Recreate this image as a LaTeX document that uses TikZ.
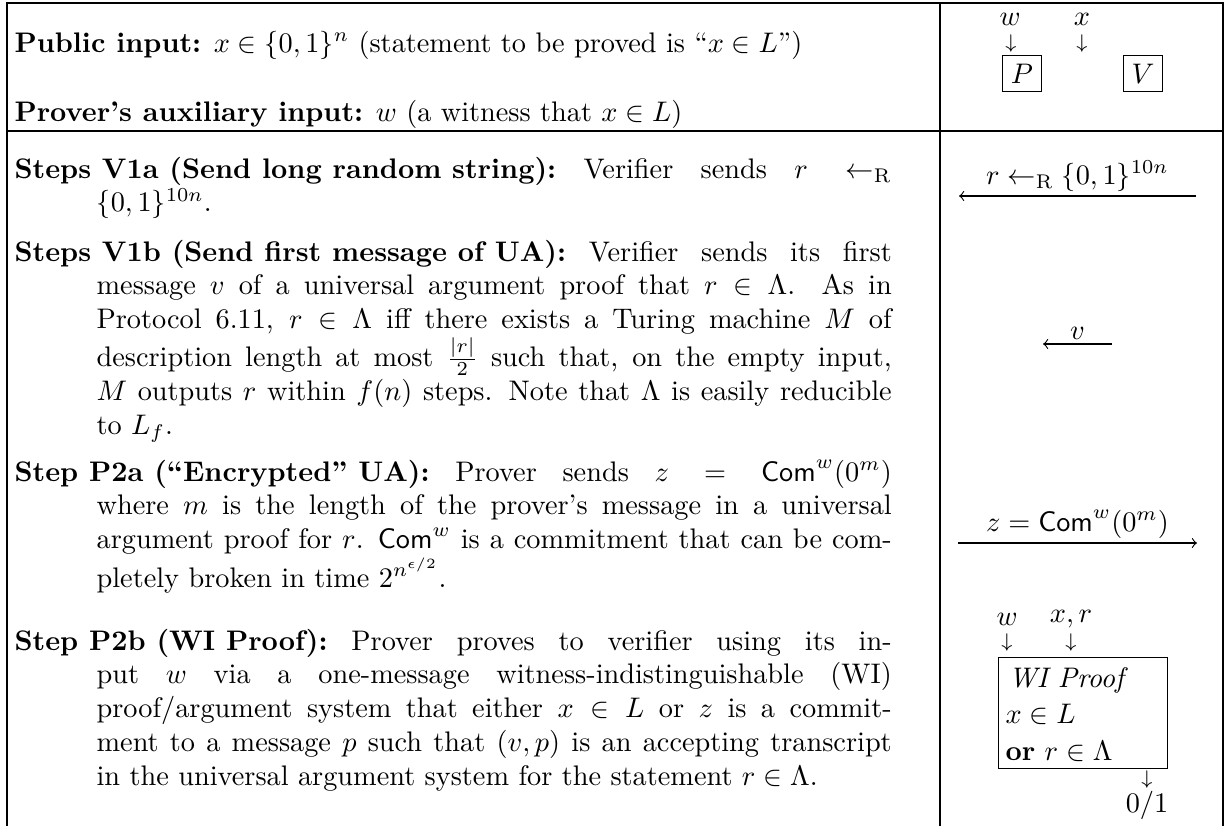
\documentclass[tikz,border=0pt]{standalone}
\usetikzlibrary{arrows.meta}
\newcommand\stepitem[2]{\parbox[t]{310pt}{\noindent\hangindent=29pt\hangafter=1 \mbox{\textbf{#1}} #2}}
\begin{document}
\begin{tikzpicture}[x=0.3534pt,y=-0.3534pt,
  rule/.style={line width=0.4pt},
  msg/.style={-to, line width=0.4pt},
  lbl/.style={inner sep=1.5pt},
  txt/.style={anchor=base west, inner sep=0pt},
  party/.style={draw, line width=0.4pt, inner sep=3pt},
  inarrow/.style={inner sep=0pt, font=\scriptsize},
  plain/.style={inner sep=0pt}]
\useasboundingbox (0,0) rectangle (1227,825);
\fill[white] (0,0) rectangle (1227,825);
% table rules
\draw[rule] (7,826) -- (7,3) -- (1223,3) -- (1223,826);
\draw[rule] (940,3) -- (940,826);
\draw[rule] (7,131) -- (1223,131);
% header, left
\node[txt] (pub) at (14,52) {\textbf{Public input:} $x\in\{0,1\}^n$ (statement to be proved is ``$x\in L$'')};
\node[txt] (aux) at (14,121) {\textbf{Prover's auxiliary input:} $w$ (a witness that $x\in L$)};
% header, right
\node[party] (P) at (1022,73.5) {$P$};
\node[party] (V) at (1143,73.5) {$V$};
\node[plain] (pw) at (1010,19) {$w$};
\node[inarrow] (pwa) at (1011,44) {$\downarrow$};
\node[plain] (px) at (1082,19) {$x$};
\node[inarrow] (pxa) at (1082,44) {$\downarrow$};
% steps, left
\node[txt] (v1a) at (14,178) {\stepitem{Steps V1a (Send long random string):}{Verifier sends $r \leftarrow_{\mathrm{R}}$\linebreak $\{0,1\}^{10n}$.}};
\node[txt] (v1b) at (14,261) {\stepitem{Steps V1b (Send first message of UA):}{Verifier sends its first\linebreak message $v$ of a universal argument proof that $r \in \Lambda$. As in\linebreak Protocol 6.11, $r \in \Lambda$ iff there exists a Turing machine $M$ of\linebreak description length at most $\frac{|r|}{2}$ such that, on the empty input,\linebreak $M$ outputs $r$ within $f(n)$ steps. Note that $\Lambda$ is easily reducible\linebreak to $L_f$.}};
\node[txt] (p2a) at (14,481) {\stepitem{Step P2a (``Encrypted'' UA):}{Prover sends $z = \mathsf{Com}^w(0^m)$\linebreak where $m$ is the length of the prover's message in a universal\linebreak argument proof for $r$. $\mathsf{Com}^w$ is a commitment that can be com-\linebreak pletely broken in time $2^{n^{\epsilon/2}}$.}};
\node[txt] (p2b) at (14,650) {\stepitem{Step P2b (WI Proof):}{Prover proves to verifier using its in-\linebreak put $w$ via a one-message witness-indistinguishable (WI)\linebreak proof/argument system that either $x \in L$ or $z$ is a commit-\linebreak ment to a message $p$ such that $(v,p)$ is an accepting transcript\linebreak in the universal argument system for the statement $r \in \Lambda$.}};
% messages, right
\coordinate (rR) at (1196,196); \coordinate (rL) at (959,196);
\draw[msg] (rR) -- node[above,lbl] (rlab) {$r \leftarrow_{\mathrm{R}} \{0,1\}^{10n}$} (rL);
\coordinate (vR) at (1112,344); \coordinate (vL) at (1043,344);
\draw[msg] (vR) -- node[above,lbl] (vlab) {$v$} (vL);
\coordinate (zL) at (958,543); \coordinate (zR) at (1197,543);
\draw[msg] (zL) -- node[above,lbl] (zlab) {$z = \mathsf{Com}^w(0^m)$} (zR);
% WI proof box
\node[plain] (wiw) at (1007,619) {$w$};
\node[inarrow] (wiwa) at (1007,643) {$\downarrow$};
\node[plain] (wixr) at (1071,619) {$x,r$};
\node[inarrow] (wixra) at (1071,643) {$\downarrow$};
\node[draw, line width=0.4pt, inner sep=0pt, anchor=north west, minimum width=59.7pt, minimum height=39.2pt] (wi) at (998,657) {};
\node[txt] (wi1) at (1008,687) {\textit{WI Proof}};
\node[txt] (wi2) at (1005,723) {$x \in L$};
\node[txt] (wi3) at (1005,760) {\textbf{or} $r \in \Lambda$};
\node[inarrow] (outa) at (1147,780) {$\downarrow$};
\node[plain] (out) at (1147,805) {$0/1$};
\end{tikzpicture}
\end{document}
